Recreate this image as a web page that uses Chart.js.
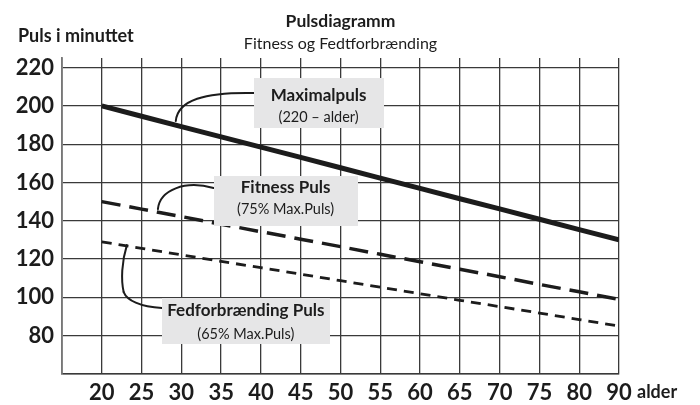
<!DOCTYPE html>
<html>
<head>
<meta charset="utf-8">
<title>Pulsdiagramm</title>
<script src="https://cdn.jsdelivr.net/npm/chart.js@4.4.1/dist/chart.umd.min.js"></script>
<style>
  html, body { margin: 0; padding: 0; background: #fff; }
  #wrap { width: 700px; height: 405px; }
</style>
</head>
<body>
<div id="wrap"><canvas id="pulsChart"></canvas></div>
<script>
// Alder langs x-aksen (85 er sprunget over)
const ages = ["20", "25", "30", "35", "40", "45", "50", "55", "60", "65", "70", "75", "80", "90"];

// Puls pr. minut for hver alder
const maxPuls     = [200, 194.6, 189.2, 183.8, 178.5, 173.1, 167.7, 162.3, 156.9, 151.5, 146.2, 140.8, 135.4, 130];
const fitnessPuls = [150, 146.1, 142.2, 138.2, 134.3, 130.4, 126.5, 122.5, 118.6, 114.7, 110.8, 106.8, 102.9, 99];
const fedtPuls    = [129, 125.6, 122.2, 118.8, 115.5, 112.1, 108.7, 105.3, 101.9, 98.5, 95.2, 91.8, 88.4, 85];

const yTicks = [80, 100, 120, 140, 160, 180, 200, 220];

const FONT = "Lato";
const INK = "#1c1c1c";

const toPoints = (values) => values.map((v, i) => ({ x: i, y: v }));

// Tekstbokse med kurvede henvisningsstreger (data-koordinater: [aldersindeks, puls])
const notes = [
  {
    title: "Maximalpuls", sub: "(220 \u2013 alder)",
    at: [5.45, 201.5], w: 130, h: 50, titleY: 18, subY: 39,
    leads: [[[1.86, 192.1], [1.91, 203.1], [2.59, 207.2], [3.82, 206.7]]]
  },
  {
    title: "Fitness Puls", sub: "(75% Max.Puls)",
    at: [4.62, 150.3], w: 144, h: 50, titleY: 12, subY: 33,
    leads: [[[1.41, 146.1], [1.46, 156.1], [2.09, 161.3], [2.81, 157.1]]]
  },
  {
    title: "Fedforbr\u00e6nding Puls", sub: "(65% Max.Puls)",
    at: [3.62, 87.7], w: 168, h: 46, titleY: 13, subY: 36,
    leads: [
      [[0.63, 127.3], [0.50, 118.5], [0.48, 109.1], [0.55, 102.8]],
      [[0.55, 102.8], [0.63, 98.6], [0.96, 95.0], [1.51, 94.5]]
    ]
  }
];

const notesPlugin = {
  id: "notes",
  afterDatasetsDraw(chart) {
    const { ctx, scales: { x, y } } = chart;
    const px = (p) => [x.getPixelForValue(p[0]), y.getPixelForValue(p[1])];
    ctx.save();

    // henvisningsstreger
    ctx.strokeStyle = INK;
    ctx.lineWidth = 2;
    ctx.lineCap = "round";
    notes.forEach((n) => {
      n.leads.forEach((seg) => {
        const [p0, p1, p2, p3] = seg.map(px);
        ctx.beginPath();
        ctx.moveTo(p0[0], p0[1]);
        ctx.bezierCurveTo(p1[0], p1[1], p2[0], p2[1], p3[0], p3[1]);
        ctx.stroke();
      });
    });

    // bokse
    notes.forEach((n) => {
      const [cx, cy] = px(n.at);
      const top = Math.round(cy - n.h / 2);
      ctx.fillStyle = "#e6e6e7";
      ctx.fillRect(Math.round(cx - n.w / 2), top, n.w, n.h);
      ctx.fillStyle = INK;
      ctx.textAlign = "center";
      ctx.textBaseline = "middle";
      ctx.font = `bold 17px ${FONT}`;
      ctx.fillText(n.title, cx, top + n.titleY);
      ctx.font = `14.5px ${FONT}`;
      ctx.fillText(n.sub, cx, top + n.subY);
    });
    ctx.restore();
  },
  afterDraw(chart) {
    const { ctx, chartArea } = chart;
    const mid = (chartArea.left + chartArea.right) / 2;
    ctx.save();
    ctx.fillStyle = INK;
    ctx.textBaseline = "alphabetic";

    ctx.textAlign = "center";
    ctx.font = `bold 17.5px ${FONT}`;
    ctx.fillText("Pulsdiagramm", mid, 27);
    ctx.font = `16px ${FONT}`;
    ctx.fillText("Fitness og Fedtforbr\u00e6nding", mid, 49);

    ctx.textAlign = "left";
    ctx.font = `bold 18px ${FONT}`;
    ctx.fillText("Puls i minuttet", 18, 42);
    ctx.font = `bold 18px ${FONT}`;
    ctx.fillText("alder", 637, 398);
    ctx.restore();
  }
};

const lineStyle = (label, values, width, dash) => ({
  label,
  data: toPoints(values),
  borderColor: INK,
  borderWidth: width,
  borderDash: dash,
  pointRadius: 0,
  tension: 0,
  fill: false
});

new Chart(document.getElementById("pulsChart"), {
  type: "line",
  data: {
    datasets: [
      lineStyle("Maximalpuls", maxPuls, 5, []),
      lineStyle("Fitness Puls", fitnessPuls, 3.5, [19, 9]),
      lineStyle("Fedforbrænding Puls", fedtPuls, 2.8, [10, 7])
    ]
  },
  options: {
    responsive: true,
    maintainAspectRatio: false,
    animation: false,
    layout: { padding: { top: 58, right: 81, left: 0, bottom: 0 } },
    plugins: {
      legend: { display: false },
      tooltip: { enabled: false }
    },
    scales: {
      x: {
        type: "linear",
        min: -1,
        max: 13,
        afterFit: (s) => { s.height = 31; },
        afterBuildTicks: (s) => { s.ticks = ages.map((_, i) => ({ value: i })).concat([{ value: -1 }]); },
        ticks: {
          padding: 6,
          color: INK,
          font: { family: FONT, size: 22, weight: "bold" },
          callback: (v) => ages[v] ?? ""
        },
        grid: { color: "#3a3a3a", lineWidth: 1.3, drawTicks: false },
        border: { color: "#3a3a3a", width: 1.5 }
      },
      y: {
        min: 60,
        max: 225,
        afterFit: (s) => { s.width = 62; },
        afterBuildTicks: (s) => { s.ticks = [60].concat(yTicks).map((v) => ({ value: v })); },
        ticks: {
          padding: 8,
          color: INK,
          font: { family: FONT, size: 22, weight: "bold" },
          callback: (v) => (yTicks.includes(v) ? v : "")
        },
        grid: { color: "#3a3a3a", lineWidth: 1.3, drawTicks: false },
        border: { color: "#777", width: 1.8 }
      }
    }
  },
  plugins: [notesPlugin]
});
</script>
</body>
</html>
